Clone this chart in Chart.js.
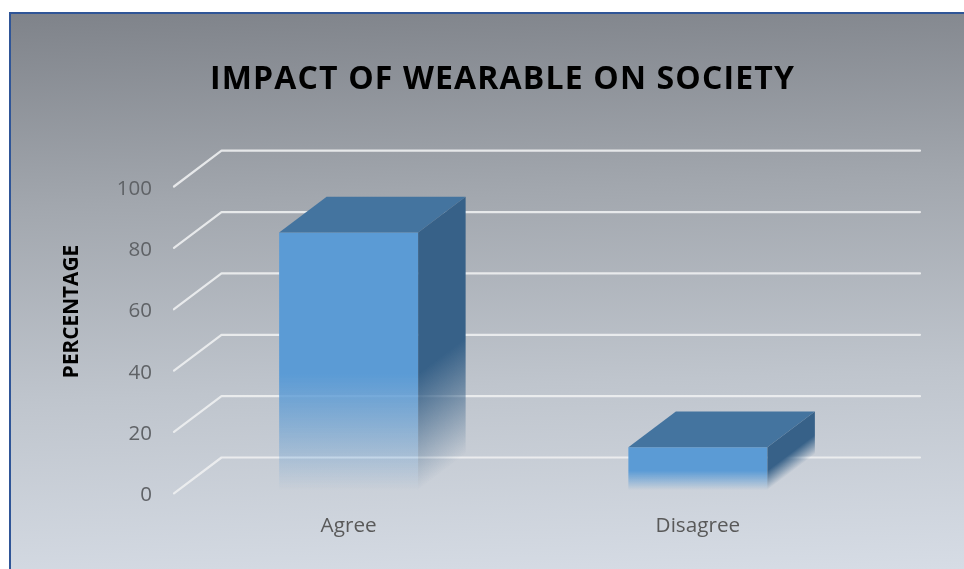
<!DOCTYPE html>
<html>
<head>
<meta charset="utf-8">
<style>
html,body{margin:0;padding:0;background:#fff;width:964px;height:569px;overflow:hidden}
#frame{position:absolute;left:9px;top:12px;width:955px;height:557px;box-sizing:border-box;
 border-left:2px solid #2f5597;border-top:2px solid #2f5597;
 background:linear-gradient(178deg,#7f838a 0%,#a2a7ae 33%,#bfc5cd 66%,#d6dce5 100%)}
#c{position:absolute;left:0;top:0}
</style>
<script src="https://cdn.jsdelivr.net/npm/chart.js@4"></script>
</head>
<body>
<div id="frame"></div>
<canvas id="c" width="964" height="569"></canvas>
<script>
const categories = ["Agree", "Disagree"];
const percentages = [85, 15];
const yTicks = [0, 20, 40, 60, 80, 100];
const chartTitle = "IMPACT OF WEARABLE ON SOCIETY";
const yTitle = "PERCENTAGE";

const depthX = 47.5, depthY = 35.8, fadeEnd = 3.3;
const fontFamily = "'Open Sans', sans-serif";

function frontFill(ctx) {
  const chart = ctx.chart, y = chart.scales.y;
  if (!y || typeof ctx.raw !== 'number') return '#5b9bd5';
  const top = y.getPixelForValue(ctx.raw), end = y.getPixelForValue(0) - fadeEnd;
  if (!isFinite(top) || !isFinite(end)) return '#5b9bd5';
  const g = chart.ctx.createLinearGradient(0, top, 0, end);
  g.addColorStop(0, 'rgba(91,155,213,1)');
  g.addColorStop(0.55, 'rgba(91,155,213,1)');
  g.addColorStop(1, 'rgba(91,155,213,0)');
  return g;
}

const depth3d = {
  id: 'depth3d',
  beforeDraw(chart) {
    if (chart.$wrapped) return;
    chart.$wrapped = true;
    const tb = chart.titleBlock, drawT = tb.draw;
    tb.draw = function () {
      const c = this.ctx;
      c.save();
      c.translate(66.25, 0);
      c.letterSpacing = '1.15px';
      drawT.apply(this, arguments);
      c.restore();
    };
    const ys = chart.scales.y, drawY = ys.drawTitle;
    ys.drawTitle = function () {
      const c = this.ctx;
      c.save();
      c.translate(0, -28.4);
      drawY.apply(this, arguments);
      c.restore();
    };
  },
  beforeDatasetsDraw(chart) {
    const c = chart.ctx, y = chart.scales.y, a = chart.chartArea;
    c.save();
    c.strokeStyle = 'rgba(238,239,241,0.9)';
    c.lineWidth = 2.2;
    c.lineCap = 'round';
    c.lineJoin = 'round';
    yTicks.forEach(v => {
      const p = y.getPixelForValue(v);
      c.beginPath();
      c.moveTo(a.left, p);
      c.lineTo(a.left + depthX, p - depthY);
      c.lineTo(a.right + depthX, p - depthY);
      c.stroke();
    });
    c.restore();
  },
  afterDatasetsDraw(chart) {
    const c = chart.ctx, y = chart.scales.y;
    chart.getDatasetMeta(0).data.forEach(bar => {
      const half = bar.width / 2, l = bar.x - half, r = bar.x + half, t = bar.y;
      const b = y.getPixelForValue(0) - fadeEnd, h = b - t;
      c.save();
      c.fillStyle = '#44749f';
      c.beginPath();
      c.moveTo(l, t); c.lineTo(l + depthX, t - depthY);
      c.lineTo(r + depthX, t - depthY); c.lineTo(r, t);
      c.closePath(); c.fill();
      const len = Math.hypot(depthX, depthY), nx = depthY / len, ny = depthX / len;
      const g = c.createLinearGradient(r, t, r + nx * h * ny, t + ny * h * ny);
      g.addColorStop(0, 'rgba(55,97,136,1)');
      g.addColorStop(0.55, 'rgba(55,97,136,1)');
      g.addColorStop(1, 'rgba(55,97,136,0)');
      c.fillStyle = g;
      c.beginPath();
      c.moveTo(r, t); c.lineTo(r + depthX, t - depthY);
      c.lineTo(r + depthX, b - depthY); c.lineTo(r, b);
      c.closePath(); c.fill();
      c.restore();
    });
  }
};

new Chart(document.getElementById('c'), {
  type: 'bar',
  data: {
    labels: categories,
    datasets: [{
      data: percentages,
      backgroundColor: frontFill,
      borderWidth: 0,
      barPercentage: 0.398,
      categoryPercentage: 1
    }]
  },
  plugins: [depth3d],
  options: {
    responsive: false,
    animation: false,
    layout: { padding: { left: 0, right: 91.5, top: 0, bottom: 0 } },
    plugins: {
      legend: { display: false },
      tooltip: { enabled: false },
      title: {
        display: true,
        text: chartTitle,
        color: '#000',
        font: { family: fontFamily, size: 32, weight: 'bold', lineHeight: 1.2 },
        padding: { top: 60.3, bottom: 87.8 }
      }
    },
    scales: {
      x: {
        grid: { display: false, drawTicks: false },
        border: { display: false },
        ticks: { color: '#595959', font: { family: fontFamily, size: 20.7 }, padding: 20.2, maxRotation: 0 },
        afterFit(s) { s.height = 75.7; }
      },
      y: {
        min: 0,
        max: 100,
        afterBuildTicks(s) { s.ticks = yTicks.map(v => ({ value: v })); },
        grid: { display: false, drawTicks: false },
        border: { display: false },
        ticks: { color: '#5f6266', font: { family: fontFamily, size: 20.5 }, padding: 22, labelOffset: 2.2 },
        title: {
          display: true,
          text: yTitle,
          color: '#000',
          font: { family: fontFamily, size: 20.8, weight: 'bold', lineHeight: 1.2 },
          padding: { top: 60, bottom: 0 }
        },
        afterFit(s) { s.width = 174; }
      }
    }
  }
});
</script>
</body>
</html>
